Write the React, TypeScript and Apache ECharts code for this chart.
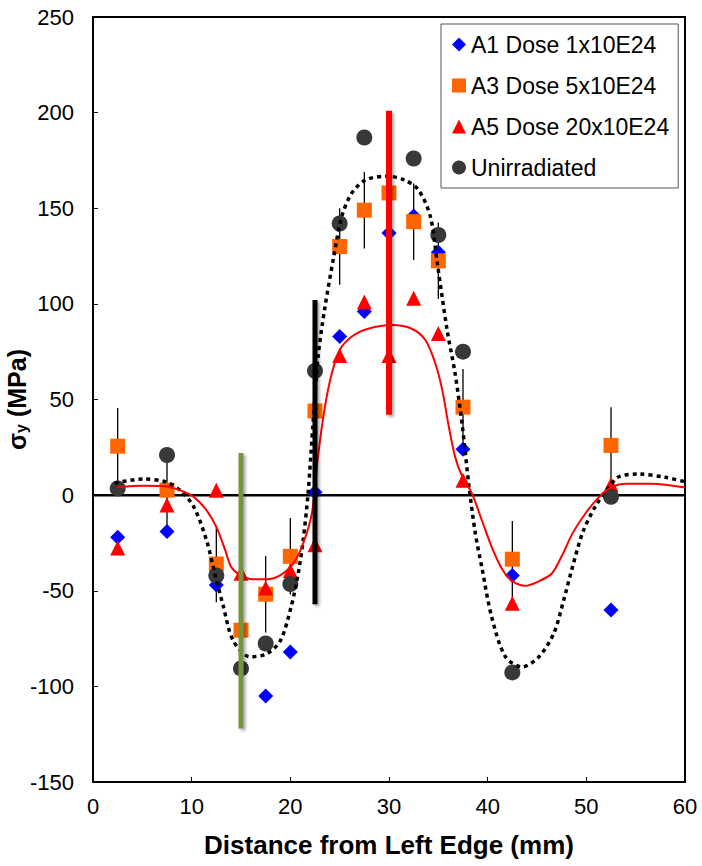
import React, { useEffect, useRef } from "react";
import * as echarts from "echarts";

// ---- Data ----
const xPos = [2.5, 7.5, 12.5, 15, 17.5, 20, 22.5, 25, 27.5, 30, 32.5, 35, 37.5, 42.5, 52.5];

const seriesNames = ["A1 Dose 1x10E24", "A3 Dose 5x10E24", "A5 Dose 20x10E24", "Unirradiated"];

const a1Values = [-22, -19, -47, null, -105, -82, 1.5, 83, 96, 137, 146, 127, 24, -42, -60];
const a3Values = [25.6, 2.6, -36, -70.6, -51.8, -32, 44, 130, 149, 158, 143, 122.5, 46, -33.5, 26];
const a3Errors = [20, 20, 20, 20, 20, 20, 20, 20, 20, 20, 20, 20, 20, 20, 20];
const a5Values = [-27.7, -5.2, 2.6, -40.8, -48.6, -39.6, -26, 73, 101, 73, 103, 84.5, 7.8, -56.6, 5.6];
const unirrValues = [3.5, 21, -42, -90.6, -77.6, -46.5, 65, 142, 187, null, 176, 136, 75, -92.7, -0.9];

// trend curve for unirradiated (dotted black)
const unirrFit = [
  [2.2, 6.4], [5.1, 8.4], [7.3, 7], [8.8, 2.6], [10.2, -6], [11.5, -23.5], [12.35, -41],
  [13.2, -58], [14.2, -76], [15.9, -84.5], [17.6, -83], [19, -76], [20.1, -58], [20.8, -41],
  [21.3, -23.5], [21.8, 1], [22.3, 37.6], [22.8, 72], [23.5, 98], [24.4, 124.6], [25.2, 145.5],
  [26.2, 157.7], [27.6, 164.7], [29.8, 166.8], [31.6, 164.7], [33, 159.5], [34.2, 145.5],
  [34.9, 121], [35.9, 86], [36.7, 63.6], [37.4, 37.5], [38.1, 5], [38.75, -20], [39.4, -37.5],
  [40.4, -63.6], [41.8, -84.5], [43.5, -89.8], [45.2, -84.5], [46.7, -72.3], [47.7, -55],
  [48.6, -37.5], [49.6, -20], [50.9, -6], [52.3, 4.3], [53.3, 9.6], [55.3, 11], [58, 9.3], [60, 7],
];

// trend curve for A5 (solid red)
const a5Fit = [
  [2.5, 4.3], [5.1, 4.9], [7.3, 4.7], [8.8, 2.6], [10.2, -0.9], [11.5, -7.8], [12.5, -16.6],
  [13.4, -28.8], [14, -37.5], [14.9, -41.8], [16.2, -44], [17.6, -44], [19, -41.8], [20.3, -35.7],
  [21.3, -25.3], [22.2, -9], [22.8, 20], [23.5, 46], [24.2, 63.6], [25, 75.8], [26.2, 82.8],
  [27.9, 87], [30.3, 88.9], [32.3, 87], [33.7, 81], [34.7, 68.8], [35.4, 54.9], [36, 37.5],
  [36.7, 20], [37.4, 10], [38.4, 0.9], [39.4, -13], [40.4, -27], [41.5, -39], [42.5, -45],
  [43.8, -47.4], [45.2, -45], [46.5, -41], [47.5, -32], [48.6, -20], [49.9, -9.6], [51.3, -0.9],
  [52.6, 4.3], [54, 6], [56.7, 6], [60, 4],
];

// vertical marker bars: [x, top, bottom]
const markerBars = [
  [15, 22, -122],
  [22.5, 102, -57],
  [30, 201, 42],
];
const markerBarColors = ["#77933C", "#000000", "#FF0000"];
const markerBarWidths = [5, 5, 6];

// zero reference line
const zeroLine = [[0, 0], [60, 0]];

const FONT = "Arial, 'Liberation Sans', sans-serif";

function pairs(vals: (number | null)[]) {
  const out: number[][] = [];
  xPos.forEach((x, i) => {
    const v = vals[i];
    if (v !== null && v !== undefined) out.push([x, v]);
  });
  return out;
}

export default function App() {
  const ref = useRef<HTMLDivElement>(null);
  useEffect(() => {
    if (!ref.current) return;
    const chart = echarts.init(ref.current, undefined, { renderer: "svg" });
    const option: any = {
      animation: false,
      backgroundColor: "#fff",
      textStyle: { fontFamily: FONT },
      grid: {
        left: 93,
        right: 17,
        top: 17,
        bottom: 84,
        show: true,
        borderColor: "#000",
        borderWidth: 2,
        backgroundColor: "transparent",
        containLabel: false,
        outerBoundsMode: "none",
      },
      legend: {
        data: seriesNames,
        orient: "vertical",
        left: 441,
        top: 24,
        itemWidth: 14,
        itemHeight: 14,
        itemGap: 16,
        padding: [8, 9, 8, 11],
        borderColor: "#555",
        borderWidth: 1,
        backgroundColor: "#fff",
        textStyle: { fontSize: 23, color: "#000", fontFamily: FONT, lineHeight: 25 },
      },
      xAxis: {
        type: "value",
        min: 0,
        max: 60,
        interval: 10,
        axisLine: { show: true, onZero: false, lineStyle: { color: "#000", width: 2 } },
        axisTick: { show: true, inside: true, length: 5, lineStyle: { color: "#000", width: 1 } },
        axisLabel: { fontSize: 22, color: "#000", fontFamily: FONT, margin: 13 },
        splitLine: { show: false },
        name: "Distance from Left Edge (mm)",
        nameLocation: "middle",
        nameGap: 50,
        nameMoveOverlap: false,
        nameTextStyle: { fontSize: 26, fontWeight: "bold", color: "#000", fontFamily: FONT },
      },
      yAxis: {
        type: "value",
        min: -150,
        max: 250,
        interval: 50,
        axisLine: { show: true, onZero: false, lineStyle: { color: "#000", width: 2 } },
        axisTick: { show: true, inside: true, length: 5, lineStyle: { color: "#000", width: 1 } },
        axisLabel: { fontSize: 22, color: "#000", fontFamily: FONT, margin: 19 },
        splitLine: { show: false },
        name: "{s|σ}{sub|y}{s| (MPa)}",
        nameLocation: "middle",
        nameGap: 64,
        nameRotate: 90,
        nameMoveOverlap: false,
        nameTextStyle: {
          color: "#000",
          rich: {
            s: { fontSize: 25, fontWeight: "bold", color: "#000", fontFamily: FONT },
            sub: {
              fontSize: 16,
              fontWeight: "bold",
              color: "#000",
              fontFamily: FONT,
              verticalAlign: "bottom",
              padding: [8, 0, 0, 0],
            },
          },
        },
      },
      series: [
        {
          type: "line",
          data: zeroLine,
          symbol: "none",
          silent: true,
          z: 1,
          lineStyle: { color: "#000", width: 2.5 },
        },
        {
          type: "custom",
          data: xPos.map((x, i) => [x, a3Values[i], a3Errors[i]]),
          encode: { x: 0, y: 1 },
          silent: true,
          z: 2,
          renderItem: (params: any, api: any) => {
            const x = api.value(0);
            const y = api.value(1);
            const e = api.value(2);
            const p1 = api.coord([x, y + e]);
            const p2 = api.coord([x, y - e]);
            return {
              type: "line",
              shape: { x1: p1[0], y1: p1[1], x2: p2[0], y2: p2[1] },
              style: { stroke: "#000", lineWidth: 1.3 },
            };
          },
        },
        {
          name: seriesNames[0],
          type: "scatter",
          data: pairs(a1Values),
          symbol: "diamond",
          symbolSize: 15,
          z: 3,
          itemStyle: { color: "#0000FF", opacity: 1 },
        },
        {
          name: seriesNames[1],
          type: "scatter",
          data: pairs(a3Values),
          symbol: "rect",
          symbolSize: 15,
          z: 4,
          itemStyle: { color: "#FF6600", opacity: 1 },
        },
        {
          name: seriesNames[2],
          type: "scatter",
          data: pairs(a5Values),
          symbol: "triangle",
          symbolSize: 15,
          z: 5,
          itemStyle: { color: "#FF0000", opacity: 1 },
        },
        {
          name: seriesNames[3],
          type: "scatter",
          data: pairs(unirrValues),
          symbol: "circle",
          symbolSize: 16,
          z: 6,
          itemStyle: { color: "#383838", opacity: 1 },
        },
        {
          type: "line",
          data: unirrFit,
          symbol: "none",
          smooth: 0.3,
          silent: true,
          z: 7,
          lineStyle: { color: "#000", width: 3.5, type: [4, 4], cap: "butt" },
        },
        {
          type: "line",
          data: a5Fit,
          symbol: "none",
          smooth: 0.3,
          silent: true,
          z: 8,
          lineStyle: { color: "#FF0000", width: 2 },
        },
        {
          type: "custom",
          data: markerBars,
          encode: { x: 0, y: [1, 2] },
          silent: true,
          z: 9,
          renderItem: (params: any, api: any) => {
            const i = params.dataIndex;
            const x = api.value(0);
            const top = api.coord([x, api.value(1)]);
            const bot = api.coord([x, api.value(2)]);
            const w = markerBarWidths[i];
            return {
              type: "rect",
              shape: { x: top[0] - w / 2, y: top[1], width: w, height: bot[1] - top[1] },
              style: {
                fill: markerBarColors[i],
                shadowColor: "rgba(0,0,0,0.35)",
                shadowBlur: 3,
                shadowOffsetX: 2,
                shadowOffsetY: 2,
              },
            };
          },
        },
      ],
    };
    chart.setOption(option);
    return () => chart.dispose();
  }, []);
  return (
    <div
      ref={ref}
      style={{ position: "absolute", left: 0, top: 0, width: 702, height: 866 }}
    />
  );
}
